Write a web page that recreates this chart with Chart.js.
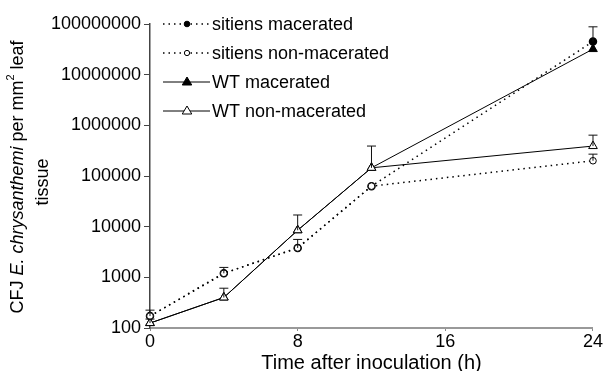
<!DOCTYPE html>
<html>
<head>
<meta charset="utf-8">
<script src="https://cdn.jsdelivr.net/npm/chart.js@4.4.0/dist/chart.umd.min.js"></script>
<style>
  html, body { margin: 0; padding: 0; background: #fff; }
  #wrap { width: 603px; height: 371px; }
</style>
</head>
<body>
<div id="wrap"><canvas id="chartCfu"></canvas></div>
<script>
// Waktu (jam) dan nilai CFU per seri
const hours = [0, 4, 8, 12, 24];
const sitiensMac = [172, 1200, 3800, 63000, 45000000];
const sitiensNonMac = [172, 1200, 3800, 63000, 200000];
const wtMac = [125, 400, 8500, 145000, 32000000];
const wtNonMac = [125, 400, 8500, 145000, 390000];
// Batas atas error bar (null = tidak ada)
const sitiensMacErr = [null, null, null, null, 88000000];
const sitiensNonMacErr = [225, 1570, 5600, null, 270000];
const wtMacErr = [null, null, null, null, null];
const wtNonMacErr = [150, 610, 17000, 390000, 640000];
const yTicks = [100, 1000, 10000, 100000, 1000000, 10000000, 100000000];
const xTicks = [0, 8, 16, 24];
const legendLabels = ['sitiens macerated', 'sitiens non-macerated', 'WT macerated', 'WT non-macerated'];

const FONT = '"Liberation Sans", Arial, sans-serif';

function pts(ys) {
  return hours.map((h, i) => ({ x: h, y: ys[i] }));
}

// error bar: garis vertikal ke atas + cap
const errorBars = {
  id: 'errorBars',
  afterDatasetsDraw(chart) {
    const ctx = chart.ctx;
    const xs = chart.scales.x, ys = chart.scales.y;
    ctx.save();
    ctx.strokeStyle = '#111';
    ctx.lineWidth = 1;
    chart.data.datasets.forEach(ds => {
      ds.errUp.forEach((e, i) => {
        if (e == null) return;
        const px = xs.getPixelForValue(hours[i]);
        const py = ys.getPixelForValue(ds.data[i].y);
        const pe = ys.getPixelForValue(e);
        ctx.beginPath();
        ctx.moveTo(px, py);
        ctx.lineTo(px, pe);
        ctx.moveTo(px - 4.5, pe);
        ctx.lineTo(px + 4.5, pe);
        ctx.stroke();
      });
    });
    ctx.restore();
  }
};

// legenda di dalam area plot + judul sumbu y (campuran italic)
const extras = {
  id: 'extras',
  afterDraw(chart) {
    const ctx = chart.ctx;
    ctx.save();
    const rows = [24, 53, 82, 111];
    chart.data.datasets.forEach((ds, i) => {
      const y = rows[i];
      ctx.strokeStyle = '#000';
      ctx.lineWidth = ds.borderWidth;
      ctx.setLineDash(ds.borderDash || []);
      ctx.beginPath();
      ctx.moveTo(163, y);
      ctx.lineTo(210, y);
      ctx.stroke();
      ctx.setLineDash([]);
      drawMarker(ctx, ds, 187, y);
      ctx.fillStyle = '#000';
      ctx.font = '18px ' + FONT;
      ctx.textBaseline = 'middle';
      ctx.textAlign = 'left';
      ctx.fillText(legendLabels[i], 212, y + 1);
    });

    // judul sumbu y
    ctx.rotate(-Math.PI / 2);
    ctx.fillStyle = '#000';
    ctx.textBaseline = 'middle';
    const parts = [
      ['CFJ ', '18px ' + FONT],
      ['E. chrysanthemi', 'italic 18px ' + FONT],
      [' per mm', '18px ' + FONT],
      ['2', '11px ' + FONT, true],
      [' leaf', '18px ' + FONT]
    ];
    let total = 0;
    parts.forEach(p => { ctx.font = p[1]; total += ctx.measureText(p[0]).width; });
    let cx = -177 - total / 2;
    parts.forEach(p => {
      ctx.font = p[1];
      ctx.textAlign = 'left';
      ctx.fillText(p[0], cx, p[2] ? 11 : 18);
      cx += ctx.measureText(p[0]).width;
    });
    ctx.font = '18px ' + FONT;
    ctx.textAlign = 'center';
    ctx.fillText('tissue', -182, 43);
    ctx.restore();
  }
};

function drawMarker(ctx, ds, x, y) {
  ctx.save();
  ctx.strokeStyle = '#000';
  ctx.lineWidth = 1;
  ctx.fillStyle = ds.pointBackgroundColor;
  const r = ds.pointRadius;
  ctx.beginPath();
  if (ds.pointStyle === 'triangle') {
    ctx.moveTo(x, y - r);
    ctx.lineTo(x + r * 0.95, y + r * 0.6);
    ctx.lineTo(x - r * 0.95, y + r * 0.6);
    ctx.closePath();
  } else {
    ctx.arc(x, y, r * 0.8, 0, Math.PI * 2);
  }
  ctx.fill();
  ctx.stroke();
  ctx.restore();
}

const ctxCfu = document.getElementById('chartCfu').getContext('2d');
const cfuChart = new Chart(ctxCfu, {
  type: 'line',
  data: {
    datasets: [
      {
        label: legendLabels[0],
        data: pts(sitiensMac),
        errUp: sitiensMacErr,
        order: 3,
        clip: false,
        borderColor: '#000',
        borderWidth: 1.5,
        borderDash: [1.5, 4],
        pointStyle: 'circle',
        pointRadius: 3.5,
        pointBackgroundColor: '#000',
        pointBorderColor: '#000',
        tension: 0
      },
      {
        label: legendLabels[1],
        data: pts(sitiensNonMac),
        errUp: sitiensNonMacErr,
        order: 1,
        clip: false,
        borderColor: '#000',
        borderWidth: 1.5,
        borderDash: [1.5, 4],
        pointStyle: 'circle',
        pointRadius: 3.3,
        pointBackgroundColor: '#fff',
        pointBorderColor: '#000',
        pointBorderWidth: 1,
        tension: 0
      },
      {
        label: legendLabels[2],
        data: pts(wtMac),
        errUp: wtMacErr,
        order: 4,
        clip: false,
        borderColor: '#000',
        borderWidth: 1,
        pointStyle: 'triangle',
        pointRadius: 5,
        pointBackgroundColor: '#000',
        pointBorderColor: '#000',
        tension: 0
      },
      {
        label: legendLabels[3],
        data: pts(wtNonMac),
        errUp: wtNonMacErr,
        order: 2,
        clip: false,
        borderColor: '#000',
        borderWidth: 1,
        pointStyle: 'triangle',
        pointRadius: 5,
        pointBackgroundColor: '#fff',
        pointBorderColor: '#000',
        pointBorderWidth: 1,
        tension: 0
      }
    ]
  },
  options: {
    responsive: true,
    maintainAspectRatio: false,
    animation: false,
    layout: { padding: { top: 24, right: 0, left: 0, bottom: 0 } },
    plugins: {
      legend: { display: false },
      tooltip: { enabled: false }
    },
    scales: {
      x: {
        type: 'linear',
        min: 0,
        max: 24,
        afterBuildTicks: s => { s.ticks = xTicks.map(v => ({ value: v })); },
        ticks: {
          color: '#000',
          font: { family: FONT, size: 18 },
          padding: 0,
          maxRotation: 0
        },
        grid: { display: true, drawOnChartArea: false, drawTicks: true, tickLength: 3, color: '#888' },
        border: { color: '#999', width: 2 },
        title: {
          display: true,
          text: 'Time after inoculation (h)',
          color: '#000',
          font: { family: FONT, size: 20, lineHeight: 1 },
          padding: { top: 3, bottom: -2 }
        },
        afterFit: s => { s.height = 43; }
      },
      y: {
        type: 'logarithmic',
        min: 100,
        max: 100000000,
        afterBuildTicks: s => { s.ticks = yTicks.map(v => ({ value: v })); },
        ticks: {
          color: '#000',
          font: { family: FONT, size: 18 },
          padding: 3,
          callback: v => String(v)
        },
        grid: { display: true, drawOnChartArea: false, drawTicks: true, tickLength: 6, color: '#444' },
        border: { color: '#444', width: 1.5 },
        afterFit: s => { s.width = 150; }
      }
    }
  },
  plugins: [errorBars, extras]
});
</script>
</body>
</html>
